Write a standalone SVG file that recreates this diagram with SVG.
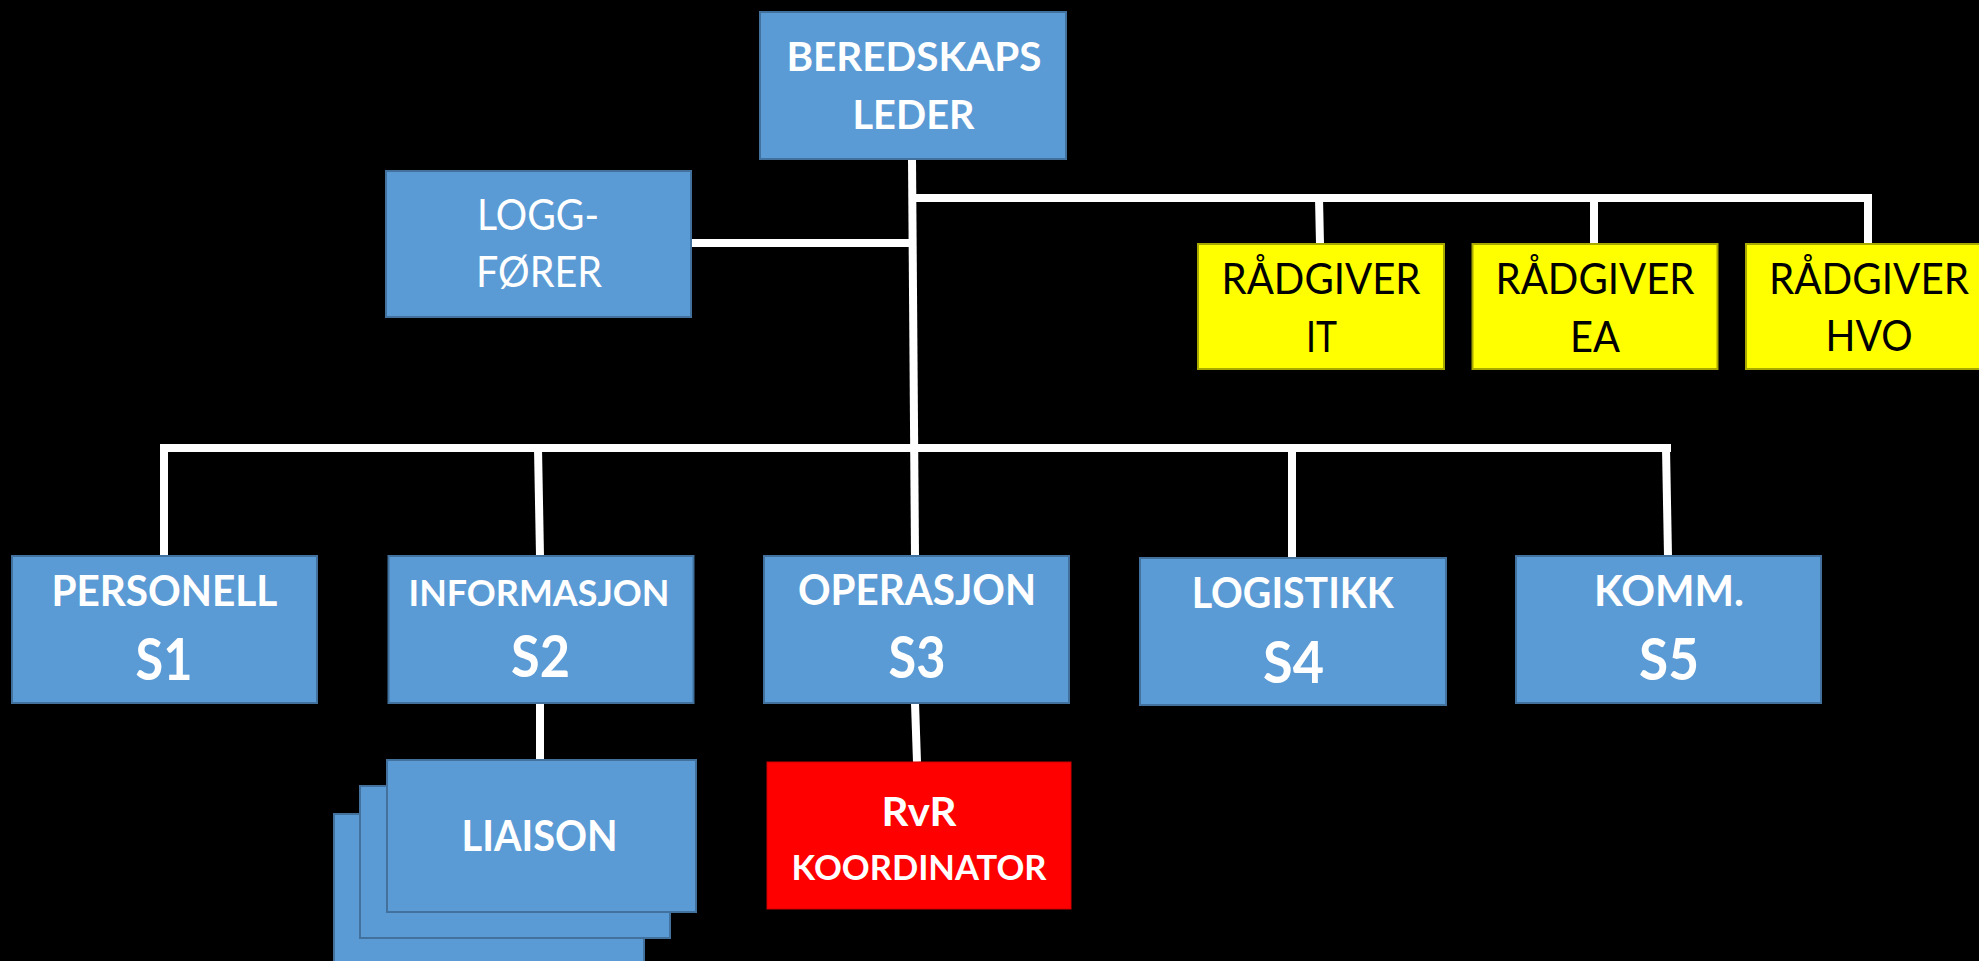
<svg xmlns="http://www.w3.org/2000/svg" width="1979" height="961" viewBox="0 0 1979 961">
  <style>
    .blue { fill: #5B9BD5; stroke: #41719C; stroke-width: 2; }
    .yellow { fill: #FFFF00; stroke: #A8A800; stroke-width: 2; }
    .red { fill: #FF0000; stroke: #D00000; stroke-width: 1; }
    .wb { font-family: Lato, "Open Sans", "Liberation Sans", sans-serif; font-weight: bold; fill: #FFFFFF; text-anchor: middle; }
    .wr { font-family: Lato, "Open Sans", "Liberation Sans", sans-serif; font-weight: normal; fill: #FFFFFF; text-anchor: middle; }
    .kr { font-family: Lato, "Open Sans", "Liberation Sans", sans-serif; font-weight: normal; fill: #000000; text-anchor: middle; }
    .conn { stroke: #FFFFFF; stroke-width: 8; fill: none; stroke-linecap: butt; stroke-linejoin: miter; }
  </style>
  <rect x="0" y="0" width="1979" height="961" fill="#000000"/>

  <g id="connectors">
    <line class="conn" x1="912" y1="159" x2="915" y2="556"/>
    <polyline class="conn" points="912,198 1868,198 1868,244"/>
    <line class="conn" x1="1319" y1="198" x2="1320" y2="244"/>
    <line class="conn" x1="1594" y1="198" x2="1594" y2="244"/>
    <line class="conn" x1="691" y1="243" x2="912" y2="243"/>
    <line class="conn" x1="160" y1="448" x2="1671" y2="448"/>
    <line class="conn" x1="164" y1="448" x2="164" y2="556"/>
    <line class="conn" x1="538" y1="448" x2="540" y2="556"/>
    <line class="conn" x1="1292" y1="448" x2="1292" y2="558"/>
    <line class="conn" x1="1666" y1="448" x2="1668" y2="556"/>
    <line class="conn" x1="540" y1="703" x2="540" y2="760"/>
    <line class="conn" x1="915" y1="703" x2="917" y2="762"/>
  </g>

  <g id="beredskapsleder">
    <rect class="blue" x="760" y="12" width="306" height="147"/>
    <text class="wb" x="914" y="71" font-size="41" textLength="255" lengthAdjust="spacingAndGlyphs">BEREDSKAPS</text>
    <text class="wb" x="913.5" y="129" font-size="41" textLength="122" lengthAdjust="spacingAndGlyphs">LEDER</text>
  </g>

  <g id="loggforer">
    <rect class="blue" x="386" y="171" width="305" height="146"/>
    <text class="wr" x="538" y="230" font-size="42" textLength="122" lengthAdjust="spacingAndGlyphs">LOGG-</text>
    <text class="wr" x="539" y="287" font-size="42" textLength="126" lengthAdjust="spacingAndGlyphs">FØRER</text>
  </g>

  <g id="radgiver-it">
    <rect class="yellow" x="1198" y="244" width="246" height="125"/>
    <text class="kr" x="1321" y="294" font-size="42" textLength="199" lengthAdjust="spacingAndGlyphs">RÅDGIVER</text>
    <text class="kr" x="1321.5" y="352" font-size="42" textLength="31" lengthAdjust="spacingAndGlyphs">IT</text>
  </g>

  <g id="radgiver-ea">
    <rect class="yellow" x="1472.5" y="244" width="245" height="125"/>
    <text class="kr" x="1595" y="294" font-size="42" textLength="199" lengthAdjust="spacingAndGlyphs">RÅDGIVER</text>
    <text class="kr" x="1595" y="352" font-size="42" textLength="50" lengthAdjust="spacingAndGlyphs">EA</text>
  </g>

  <g id="radgiver-hvo">
    <rect class="yellow" x="1746" y="244" width="246" height="125"/>
    <text class="kr" x="1869" y="294" font-size="42" textLength="200" lengthAdjust="spacingAndGlyphs">RÅDGIVER</text>
    <text class="kr" x="1869" y="351" font-size="42" textLength="87" lengthAdjust="spacingAndGlyphs">HVO</text>
  </g>

  <g id="s1">
    <rect class="blue" x="12" y="556" width="305" height="147"/>
    <text class="wb" x="164.4" y="606" font-size="42" textLength="226" lengthAdjust="spacingAndGlyphs">PERSONELL</text>
    <text class="wb" x="164" y="680" font-size="57" textLength="57" lengthAdjust="spacingAndGlyphs">S1</text>
  </g>

  <g id="s2">
    <rect class="blue" x="388.5" y="556" width="305" height="147"/>
    <text class="wb" x="539" y="606" font-size="36" textLength="261" lengthAdjust="spacingAndGlyphs">INFORMASJON</text>
    <text class="wb" x="540.5" y="677" font-size="57" textLength="59" lengthAdjust="spacingAndGlyphs">S2</text>
  </g>

  <g id="s3">
    <rect class="blue" x="764" y="556" width="305" height="147"/>
    <text class="wb" x="917" y="605" font-size="42" textLength="238" lengthAdjust="spacingAndGlyphs">OPERASJON</text>
    <text class="wb" x="917" y="678" font-size="57" textLength="57" lengthAdjust="spacingAndGlyphs">S3</text>
  </g>

  <g id="s4">
    <rect class="blue" x="1140" y="558" width="306" height="147"/>
    <text class="wb" x="1292.7" y="608" font-size="42" textLength="202" lengthAdjust="spacingAndGlyphs">LOGISTIKK</text>
    <text class="wb" x="1293.5" y="683" font-size="57" textLength="61" lengthAdjust="spacingAndGlyphs">S4</text>
  </g>

  <g id="s5">
    <rect class="blue" x="1516" y="556" width="305" height="147"/>
    <text class="wb" x="1669" y="606" font-size="42" textLength="150" lengthAdjust="spacingAndGlyphs">KOMM.</text>
    <text class="wb" x="1669" y="680" font-size="57" textLength="60" lengthAdjust="spacingAndGlyphs">S5</text>
  </g>

  <g id="liaison">
    <rect class="blue" x="334" y="814" width="310" height="152"/>
    <rect class="blue" x="360" y="786" width="310" height="152"/>
    <rect class="blue" x="387" y="760" width="309" height="152"/>
    <text class="wb" x="539.6" y="851" font-size="42" textLength="156" lengthAdjust="spacingAndGlyphs">LIAISON</text>
  </g>

  <g id="rvr-koordinator">
    <rect class="red" x="767" y="762" width="304" height="147"/>
    <text class="wb" x="919" y="826" font-size="40" textLength="75" lengthAdjust="spacingAndGlyphs">RvR</text>
    <text class="wb" x="919" y="880" font-size="34" textLength="255" lengthAdjust="spacingAndGlyphs">KOORDINATOR</text>
  </g>
</svg>
